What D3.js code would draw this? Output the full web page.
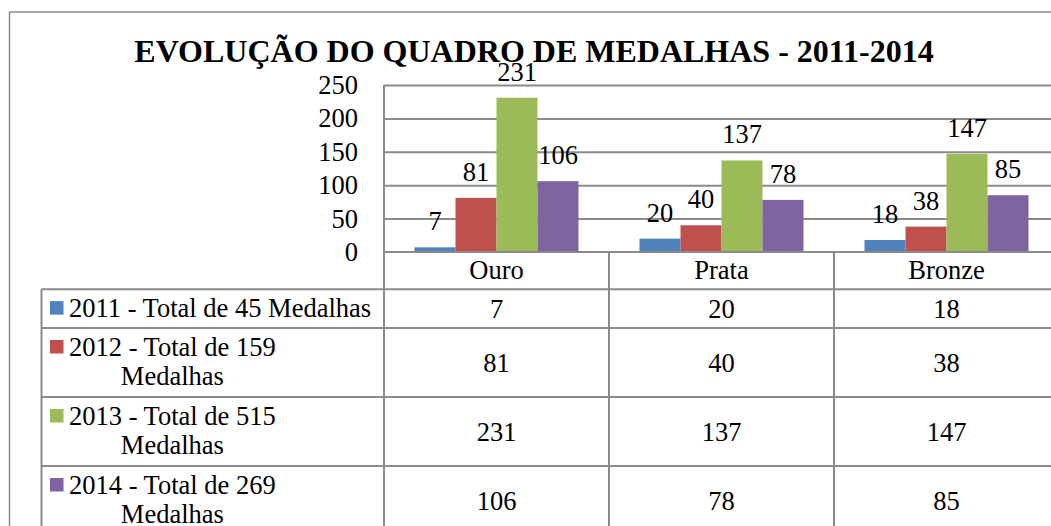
<!DOCTYPE html>
<html>
<head>
<meta charset="utf-8">
<script src="https://cdn.jsdelivr.net/npm/d3@7"></script>
<style>
  body { margin: 0; background: #fff; }
  svg text { font-family: "Liberation Serif", "Times New Roman", serif; }
</style>
</head>
<body>
<script>
// medal table data
const categories = ["Ouro", "Prata", "Bronze"];
const seriesNames = [
  "2011 - Total de 45 Medalhas",
  "2012 - Total de 159 Medalhas",
  "2013 - Total de 515 Medalhas",
  "2014 - Total de 269 Medalhas"
];
const values2011 = [7, 20, 18];
const values2012 = [81, 40, 38];
const values2013 = [231, 137, 147];
const values2014 = [106, 78, 85];
const yTicks = [0, 50, 100, 150, 200, 250];
const colors = ["#4F81BD", "#C0504D", "#9BBB59", "#8064A2"];
const title = "EVOLUÇÃO DO QUADRO DE MEDALHAS - 2011-2014";

const seriesValues = [values2011, values2012, values2013, values2014];

const W = 1051, H = 526;
const plotLeft = 384, plotTop = 85, plotBottom = 252;
const bandW = 225;
const plotRight = plotLeft + bandW * categories.length;
const legendLeft = 41.5;
const gridColor = "#8a8a8a";
const fontSize = 26.5;

const svg = d3.select("body")
  .append("svg")
  .attr("width", W)
  .attr("height", H);

// outer chart border
svg.append("rect")
  .attr("x", 9.5).attr("y", 12)
  .attr("width", W + 20).attr("height", H + 20)
  .attr("fill", "none")
  .attr("stroke", "#8c8c8c")
  .attr("stroke-width", 1.5);

svg.append("text")
  .attr("x", 534).attr("y", 61.5)
  .attr("text-anchor", "middle")
  .attr("font-weight", "bold")
  .attr("font-size", 32)
  .text(title);

const x = d3.scaleBand()
  .domain(categories)
  .range([plotLeft, plotRight]);

const gap = 61;
const xSub = d3.scaleBand()
  .domain(d3.range(seriesNames.length))
  .range([gap / 2, bandW - gap / 2]);

const y = d3.scaleLinear()
  .domain([0, 250])
  .range([plotBottom, plotTop]);

// gridlines
const grid = svg.append("g")
  .attr("transform", `translate(${plotLeft},0)`)
  .call(d3.axisLeft(y).tickValues(yTicks.filter(d => d > 0)).tickSize(-(plotRight - plotLeft)).tickFormat(""));
grid.select(".domain").remove();
grid.selectAll("line").attr("stroke", gridColor).attr("stroke-width", 2);

// y tick labels
const yAxis = svg.append("g")
  .attr("transform", `translate(${plotLeft},0)`)
  .call(d3.axisLeft(y).tickValues(yTicks).tickSize(0).tickPadding(26));
yAxis.select(".domain").remove();
yAxis.attr("font-size", fontSize).attr("font-family", null);
yAxis.selectAll("text").attr("fill", "#000");

// bars
const groups = svg.append("g")
  .selectAll("g")
  .data(categories)
  .join("g")
  .attr("transform", d => `translate(${x(d)},0)`);

groups.selectAll("rect")
  .data((c, ci) => seriesValues.map((vals, si) => ({ si, v: vals[ci] })))
  .join("rect")
  .attr("x", d => xSub(d.si))
  .attr("width", xSub.bandwidth())
  .attr("y", d => y(d.v))
  .attr("height", d => y(0) - y(d.v))
  .attr("fill", d => colors[d.si]);

groups.selectAll("text.lbl")
  .data((c, ci) => seriesValues.map((vals, si) => ({ si, v: vals[ci] })))
  .join("text")
  .attr("class", "lbl")
  .attr("x", d => xSub(d.si) + xSub.bandwidth() / 2)
  .attr("y", d => y(d.v) - 17)
  .attr("text-anchor", "middle")
  .attr("font-size", fontSize)
  .text(d => d.v);

// category labels (table header row)
const xAxis = svg.append("g")
  .attr("transform", `translate(0,${plotBottom})`)
  .call(d3.axisBottom(x).tickSize(0).tickPadding(8.5));
xAxis.select(".domain").remove();
xAxis.attr("font-size", fontSize).attr("font-family", null);
xAxis.selectAll("text").attr("fill", "#000");

// data table rows
const measure = svg.append("text").attr("font-size", fontSize).attr("visibility", "hidden");
function wrap(str, maxW) {
  const words = str.split(" ");
  const lines = [];
  let cur = "";
  words.forEach(w => {
    const test = cur ? cur + " " + w : w;
    measure.text(test);
    if (measure.node().getComputedTextLength() > maxW && cur) {
      lines.push(cur);
      cur = w;
    } else cur = test;
  });
  lines.push(cur);
  return lines;
}

const rowTop0 = 289.3;
const rows = [];
let yy = rowTop0;
seriesNames.forEach((name, si) => {
  const lines = wrap(name, 310);
  const h = lines.length === 1 ? 38.7 : 69;
  rows.push({ si, name, lines, top: yy, h });
  yy += h;
});
measure.remove();

const table = svg.append("g");

// horizontal lines
table.append("line")
  .attr("x1", plotLeft).attr("x2", W + 10)
  .attr("y1", plotBottom).attr("y2", plotBottom);
rows.forEach(r => {
  table.append("line")
    .attr("x1", legendLeft).attr("x2", W + 10)
    .attr("y1", r.top).attr("y2", r.top);
});
// vertical lines
table.append("line")
  .attr("x1", legendLeft).attr("x2", legendLeft)
  .attr("y1", rowTop0).attr("y2", H + 10);
table.append("line")
  .attr("x1", plotLeft).attr("x2", plotLeft)
  .attr("y1", plotTop).attr("y2", H + 10);
categories.slice(1).forEach(c => {
  table.append("line")
    .attr("x1", x(c)).attr("x2", x(c))
    .attr("y1", plotBottom).attr("y2", H + 10);
});
table.selectAll("line").attr("stroke", gridColor).attr("stroke-width", 2);

const rowG = svg.append("g")
  .selectAll("g")
  .data(rows)
  .join("g")
  .attr("font-size", fontSize);

rowG.each(function (r) {
  const g = d3.select(this);
  const cy = r.top + r.h / 2;
  const firstBase = r.lines.length === 1 ? cy + 8 : cy - 7;
  g.append("rect")
    .attr("x", 50).attr("y", firstBase - 15.5)
    .attr("width", 13.5).attr("height", 13.5)
    .attr("fill", colors[r.si]);
  const t1 = g.append("text")
    .attr("x", 69).attr("y", firstBase)
    .text(r.lines[0]);
  const w1 = t1.node().getComputedTextLength();
  r.lines.slice(1).forEach((ln, i) => {
    g.append("text")
      .attr("x", 69 + w1 / 2)
      .attr("y", firstBase + 29 * (i + 1))
      .attr("text-anchor", "middle")
      .text(ln);
  });
  categories.forEach((c, ci) => {
    g.append("text")
      .attr("x", x(c) + x.bandwidth() / 2)
      .attr("y", cy + 9)
      .attr("text-anchor", "middle")
      .text(seriesValues[r.si][ci]);
  });
});
</script>
</body>
</html>
